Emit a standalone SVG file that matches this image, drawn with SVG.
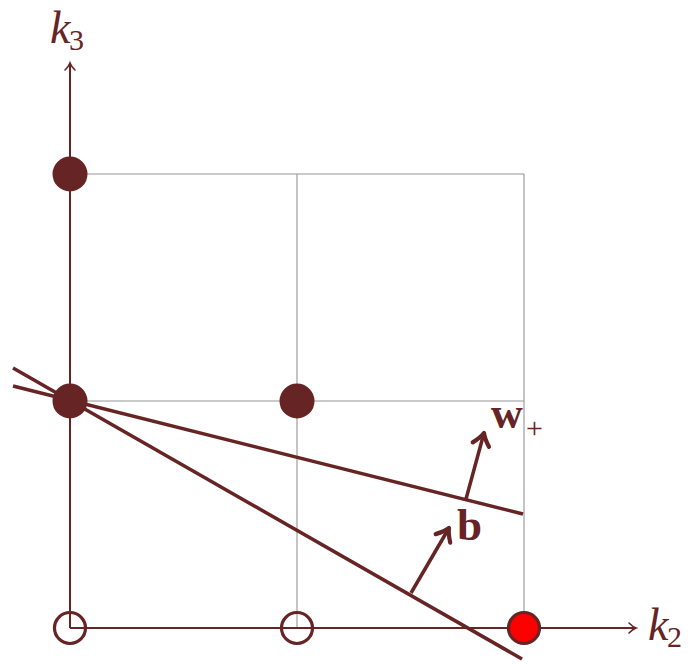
<svg xmlns="http://www.w3.org/2000/svg" width="694" height="666" viewBox="0 0 694 666">
<style>
.grid{stroke:#959595;stroke-width:1.1;fill:none}
.axis{stroke:#662424;stroke-width:2;fill:none}
.line{stroke:#662424;stroke-width:3.5;fill:none;stroke-linecap:butt}
.vec{stroke:#662424;stroke-width:3.5;fill:none}
.full{fill:#662424;stroke:#662424;stroke-width:3}
.open{fill:none;stroke:#662424;stroke-width:3.2}
.red{fill:#ff0000;stroke:#662424;stroke-width:3.2}
.lbl{fill:#662424;font-family:"Liberation Serif",serif}
</style>
<defs>
<marker id="ax" markerUnits="userSpaceOnUse" markerWidth="16" markerHeight="16" viewBox="-10 -8 12 16" refX="0" refY="0" orient="auto">
<path d="M-7,-5 Q-3,-1 0,0 Q-3,1 -7,5" fill="none" stroke="#662424" stroke-width="1.6" stroke-linecap="round"/>
</marker>
<marker id="vh" markerUnits="userSpaceOnUse" markerWidth="24" markerHeight="24" viewBox="-14 -10 16 20" refX="0" refY="0" orient="auto">
<path d="M-10,-7 Q-4,-1.5 0,0 Q-4,1.5 -10,7" fill="none" stroke="#662424" stroke-width="3.5" stroke-linecap="round" stroke-linejoin="round"/>
</marker>
</defs>
<g id="grid">
<path class="grid" d="M70,174H524M70,401H524M297,174V628M524,174V628"/>
</g>
<g id="connectors">
<line class="axis" x1="70" y1="628" x2="70" y2="63" marker-end="url(#ax)"/>
<line class="axis" x1="70" y1="628" x2="636" y2="628" marker-end="url(#ax)"/>
<line class="line" x1="13" y1="368" x2="522" y2="659"/>
<line class="line" x1="13" y1="386" x2="523" y2="514"/>
<line class="vec" x1="466" y1="499" x2="484" y2="433" marker-end="url(#vh)"/>
<line class="vec" x1="411" y1="593" x2="449" y2="528" marker-end="url(#vh)"/>
</g>
<g id="p-0-2"><circle class="full" cx="70" cy="174" r="16"/></g>
<g id="p-0-1"><circle class="full" cx="70" cy="401" r="16"/></g>
<g id="p-1-1"><circle class="full" cx="297" cy="401" r="16"/></g>
<g id="p-0-0"><circle class="open" cx="70" cy="628" r="15.5"/></g>
<g id="p-1-0"><circle class="open" cx="297" cy="628" r="15.5"/></g>
<g id="p-2-0"><circle class="red" cx="524" cy="628" r="15.5"/></g>
<g id="label-k3"><text class="lbl" x="50" y="43" font-size="46" font-style="italic">k</text><text class="lbl" x="69" y="50" font-size="30">3</text></g>
<g id="label-k2"><text class="lbl" x="648" y="640" font-size="46" font-style="italic">k</text><text class="lbl" x="667" y="647" font-size="30">2</text></g>
<g id="label-w"><text class="lbl" x="491" y="428" font-size="44" font-weight="bold">w</text><text class="lbl" x="526" y="438" font-size="30">+</text></g>
<g id="label-b"><text class="lbl" x="457" y="540" font-size="45" font-weight="bold">b</text></g>
</svg>
